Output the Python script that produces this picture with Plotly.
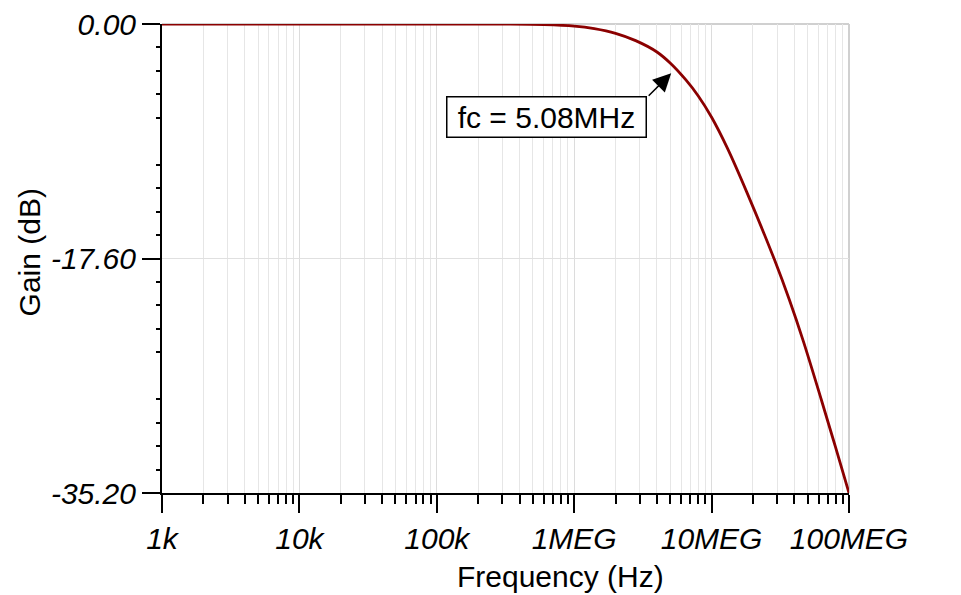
import numpy as np
import plotly.graph_objects as go

# Data
freq_hz = [1e3, 1e4, 1e5, 3e5, 6e5, 1.0e6, 1.4e6, 2.0e6, 2.8e6, 4.0e6, 5.08e6,
           6.5e6, 8.0e6, 10e6, 13e6, 18e6, 28.7e6, 36.8e6, 46.5e6, 62.9e6, 80e6, 100e6]
gain_db = [0.0, 0.0, 0.0, -0.01, -0.05, -0.16, -0.35, -0.7, -1.25, -2.1, -3.0,
           -4.2, -5.4, -7.0, -9.3, -12.6, -17.7, -20.7, -23.8, -28.2, -31.8, -35.2]

x_tick_vals = [1e3, 1e4, 1e5, 1e6, 1e7, 1e8]
x_tick_text = ["1k", "10k", "100k", "1MEG", "10MEG", "100MEG"]
y_tick_vals = [0.0, -17.6, -35.2]
y_tick_text = ["0.00", "-17.60", "-35.20"]
fc_label = "fc = 5.08MHz"
fc_freq = 5.08e6
fc_point_db = -3.7

FONT = "Liberation Sans, Arial, Helvetica, sans-serif"

x_minor = [m * 10 ** d for d in range(3, 8) for m in range(2, 10)]
y_minor_all = [-1.76 * i for i in range(1, 20) if i not in (10,)]
y_minor = [v for v in y_minor_all if abs(v + 8.8) > 1e-6 and abs(v + 26.4) > 1e-6]
y_mid = [-8.8, -26.4]

fig = go.Figure()
fig.add_trace(go.Scatter(x=freq_hz, y=gain_db, mode="lines",
                         line=dict(color="#8b0000", width=2.8, shape="spline", smoothing=1.0),
                         showlegend=False, hoverinfo="skip"))

fig.update_layout(
    width=961, height=595,
    margin=dict(l=161.7, r=111.7, t=24.3, b=102.3, autoexpand=False),
    paper_bgcolor="white", plot_bgcolor="white",
    font=dict(family=FONT, color="black"),
    showlegend=False,
    xaxis=dict(
        type="log", range=[3, 8], automargin=False,
        tickmode="array", tickvals=x_tick_vals, ticktext=x_tick_text,
        ticks="outside", ticklen=18, tickwidth=1.5, tickcolor="black",
        tickfont=dict(size=30, style="italic", family=FONT),
        showline=True, linecolor="black", linewidth=2,
        showgrid=True, gridcolor="#dcdcdc", gridwidth=1,
        zeroline=False,
        minor=dict(tickmode="array", tickvals=x_minor, ticks="outside", ticklen=9,
                   tickwidth=1.5, tickcolor="black", showgrid=True,
                   gridcolor="#e6e6e6", gridwidth=1),
    ),
    yaxis=dict(
        range=[-35.2, 0], automargin=False,
        tickmode="array", tickvals=y_tick_vals, ticktext=y_tick_text,
        ticks="outside", ticklen=18, tickwidth=1.5, tickcolor="black",
        tickfont=dict(size=30, style="italic", family=FONT),
        showline=True, linecolor="black", linewidth=2,
        showgrid=True, gridcolor="#e0e0e0", gridwidth=1,
        zeroline=False,
        minor=dict(tickmode="array", tickvals=y_minor, ticks="outside", ticklen=4,
                   tickwidth=1.5, tickcolor="black", showgrid=False),
    ),
    yaxis2=dict(
        overlaying="y", side="left", range=[-35.2, 0], automargin=False,
        tickmode="array", tickvals=y_mid, ticks="outside", ticklen=7,
        tickwidth=1.5, tickcolor="black", showticklabels=False,
        showgrid=False, showline=False, zeroline=False,
    ),
)

# light grey top and right frame
fig.add_shape(type="line", xref="paper", yref="paper", x0=0, x1=1, y0=1, y1=1,
              line=dict(color="#d0d0d0", width=2), layer="below")
fig.add_shape(type="line", xref="paper", yref="paper", x0=1, x1=1, y0=0, y1=1,
              line=dict(color="#d0d0d0", width=2), layer="below")

# axis titles
fig.add_annotation(text="Frequency (Hz)", xref="paper", yref="paper",
                   x=0.5807, y=-0.178, xanchor="center", yanchor="middle",
                   showarrow=False, font=dict(size=30, family=FONT))
fig.add_annotation(text="Gain (dB)", xref="paper", yref="paper",
                   x=(30 - 161.7) / 687.6, y=(492.7 - 252) / 468.4,
                   xanchor="center", yanchor="middle", textangle=-90,
                   showarrow=False, font=dict(size=30, family=FONT))

# fc label box
fig.add_annotation(text=fc_label, xref="paper", yref="paper",
                   x=0.5596, y=0.8021, xanchor="center", yanchor="middle",
                   showarrow=False, font=dict(size=30, family=FONT), width=192,
                   bgcolor="white", bordercolor="black", borderwidth=1.5, borderpad=3)
# arrow
fig.add_annotation(text="", x=np.log10(fc_freq), y=fc_point_db, xref="x", yref="y",
                   showarrow=True, ax=-24, ay=24, arrowhead=2, arrowsize=2.4,
                   arrowwidth=1.5, arrowcolor="black", standoff=0)

fig.write_html("out.html", config={"displayModeBar": False},
               post_script="document.body.style.margin='0';document.body.style.padding='0';"
                           "document.documentElement.style.overflow='hidden';")
